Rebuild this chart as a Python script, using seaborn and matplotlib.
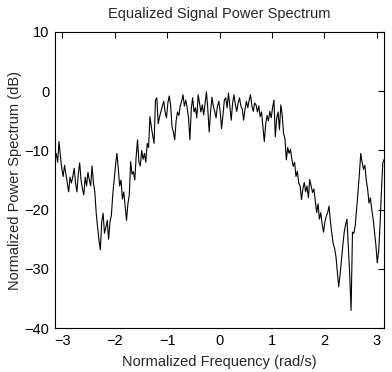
import numpy as np
import pandas as pd
import matplotlib
matplotlib.use("Agg")
import matplotlib.pyplot as plt
import seaborn as sns

power_db = [
    # -pi .. -2.35
    -11.6, -10.5, -12, -8.5, -11, -13, -14.4, -12.5, -14, -15.5,
    -17, -14.5, -15.5, -14.4, -13, -15.5, -17, -14, -12.1, -15,
    -16.5, -17.5, -14.5, -16, -13.7, -15, -16, -12.6, -15.5, -17,
    # -2.35 .. -1.96
    -20.6, -23, -25.1, -26.8, -22, -20.6, -24, -23, -21.8, -25,
    -22, -21, -17.5, -15, -12.6, -10.5,
    # -1.93 .. -1.30
    -13, -16, -15, -18.2, -17, -19.5, -21.8, -19, -17.5, -11.9,
    -14, -13.6, -15, -11, -8.2, -12, -12.6, -10, -11.5, -10.5,
    -12, -8.8, -9.5, -4.3, -6,
    # -1.275 .. 0.80
    -7.5, -8.8, -1.5, -1.1, -5.5, -4.3, -3.4, -2.5, -1.7, -3.5,
    -4.5, -2, -0.8, -2.3, -5.9, -6.9, -8.2, -5, -3.5, -4.1,
    -2.5, -1.7, -0.6, -2.5, -1.5, -2.8, -4.5, -8.2, -3, -1.1,
    -3.5, -2.8, -4.5, -0.6, -2, -3.5, -2.3, -4, -2, -0.1,
    -3, -6.9, -3.5, -1, -2.5, -3.4, -4.5, -2.5, -1.7, -3.5,
    -6.3, -4, -1.5, -1.1, -2.8, -0.3, -2.5, -4.9, -2, -0.6,
    -2.3, -3.4, -2, -1.1, -2.5, -3, -4.9, -3, -1.7, -2.8,
    -1.5, -0.6, -2.5, -3.4, -2, -2.3, -3.5, -2.5, -4.3, -3.5,
    # 0.83 .. 1.28
    -6, -8.5, -5.5, -4.1, -5, -3.4, -4.5, -2.8, -1.5, -7.7,
    -4.5, -3.5, -6.5, -2.3, -4, -7.2, -8,
    # 1.28 .. 2.11
    -11.6, -9.5, -10.5, -9.8, -11.5, -12.7, -12, -14.4, -13.5, -15.5,
    -16, -18.3, -16.5, -15.4, -17, -16, -18, -14.9, -16, -17.1,
    -16.5, -18.5, -20.5, -19, -21.6, -20.5, -22.5, -23.8, -22, -21.1,
    -20.5, -19.4,
    # 2.14 .. pi
    -22, -24, -25.7, -26.5, -27.9, -30.5, -33, -31, -28.5, -26,
    -23.8, -22.5, -21.6, -26.2, -31, -37, -23.8, -24, -22.7, -20,
    -17.1, -14, -10.5, -12, -13.2, -12.5, -15, -16.5, -18.9, -18,
    -20, -21.6, -23.8, -26, -29, -27, -22.7, -17, -12.1, -11.5,
]
freq = np.linspace(-np.pi, np.pi, len(power_db))

x_ticks = [-3, -2, -1, 0, 1, 2, 3]
y_ticks = [-40, -30, -20, -10, 0, 10]

df = pd.DataFrame({"freq": freq, "power": power_db})

sns.set_style("white")
plt.rcParams["font.family"] = ["Liberation Sans", "DejaVu Sans"]

fig = plt.figure(figsize=(3.92, 3.72), dpi=100)
ax = fig.add_axes([0.140, 0.118, 0.840, 0.796])
sns.lineplot(data=df, x="freq", y="power", ax=ax, color="black", linewidth=0.8)

ax.set_xlim(-np.pi, np.pi)
ax.set_ylim(-40, 10)
ax.set_xticks(x_ticks)
ax.set_yticks(y_ticks)
ax.tick_params(direction="in", top=True, right=True, length=4, width=0.8,
               labelsize=10.5, colors="black", pad=4)
for s in ax.spines.values():
    s.set_color("black")
    s.set_linewidth(0.8)
ax.set_title("Equalized Signal Power Spectrum", fontsize=10.5, pad=10)
ax.set_xlabel("Normalized Frequency (rad/s)", fontsize=10.5, labelpad=5)
ax.set_ylabel("Normalized Power Spectrum (dB)", fontsize=10.5, labelpad=2)

fig.savefig("out.png", dpi=100)
